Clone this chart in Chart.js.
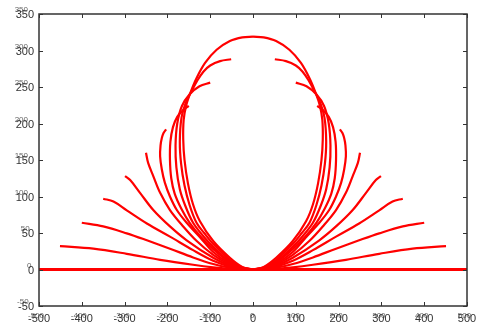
<!DOCTYPE html>
<html>
<head>
<meta charset="utf-8">
<script src="https://cdn.jsdelivr.net/npm/chart.js@4.4.0/dist/chart.umd.min.js"></script>
<style>
  html, body { margin: 0; padding: 0; background: #fff; }
  #wrap { width: 479px; height: 325px; }
</style>
</head>
<body>
<div id="wrap"><canvas id="c"></canvas></div>
<script>
// tick labels
const xTicks = [-500, -400, -300, -200, -100, 0, 100, 200, 300, 400, 500];
const yTicks = [-50, 0, 50, 100, 150, 200, 250, 300, 350];

// flat base line
const floorLine = [[-500, 0], [500, 0]];

// left-hand arms (origin -> tip); right side is the mirror image
const arm1 = [[0, 0], [-25, 0.2], [-54, 1], [-93, 3], [-140, 6.5], [-217, 13.3], [-295, 21.5], [-373, 28.5], [-451, 32]];
const arm2 = [[0, 0], [-25, 0.5], [-54, 2.5], [-93, 7.5], [-140, 16.5], [-194, 28.5], [-248, 40], [-295, 49.5], [-350, 59], [-400, 64]];
const arm3 = [[0, 0], [-25, 0.8], [-54, 4], [-93, 12], [-140, 26.5], [-194, 45], [-248, 63], [-295, 81], [-326, 93], [-350, 97]];
const arm4 = [[0, 0], [-25, 1], [-54, 5], [-93, 16], [-155, 40], [-194, 59], [-233, 81.5], [-264, 105], [-287, 122.5], [-299, 128]];
const arm5 = [[0, 0], [-25, 1.3], [-54, 6.5], [-93, 20], [-131.5, 39], [-163, 59], [-194, 81.5], [-217, 105], [-233, 128], [-245, 146], [-250, 160]];
const arm6 = [[0, 0], [-25, 1.6], [-54, 8], [-93, 24], [-125, 45], [-155, 64], [-178, 81.5], [-194, 100], [-206, 119], [-213, 137], [-217, 155], [-216, 170], [-213, 180], [-209, 187], [-203, 192]];
const arm7 = [[0, 0], [-25, 2], [-54, 9.5], [-93, 28], [-122, 45], [-148, 64], [-168, 84], [-183, 104], [-191, 125], [-194, 150], [-193, 175], [-187, 195], [-177, 209], [-164, 218], [-150, 224]];
const arm8 = [[0, 0], [-25, 2.3], [-54, 11], [-93, 31], [-118, 47], [-140, 64], [-158, 87], [-171, 110], [-179, 140], [-181, 170], [-177, 200], [-166, 224], [-148, 240], [-125, 251], [-100, 256]];
const arm9 = [[0, 0], [-25, 2.8], [-54, 13], [-93, 35], [-114, 50], [-132, 64], [-148, 88], [-160, 115], [-168, 145], [-171, 175], [-167, 208], [-156, 230], [-143, 245], [-131, 258], [-116, 271], [-100, 279.5], [-77, 285.5], [-51, 288]];
const arm10 = [[0, 0], [-25, 3.5], [-54, 16], [-93, 39], [-124, 66], [-140, 89], [-152, 118], [-160, 150], [-163, 178], [-162, 205], [-156, 225], [-147, 241], [-132, 262], [-112, 283], [-85, 301], [-54, 313], [-25, 318], [0, 319]];

const arms = [arm1, arm2, arm3, arm4, arm5, arm6, arm7, arm8, arm9, arm10];

const RED = '#ff0000';
const FONT = '"Liberation Sans", Arial, sans-serif';

function toPoints(arr, side) {
  return arr.map(p => ({ x: side * p[0], y: p[1] }));
}

const datasets = [{
  data: toPoints(floorLine, 1),
  borderColor: RED,
  borderWidth: 3,
  tension: 0,
}];
arms.forEach(a => {
  [1, -1].forEach(side => {
    datasets.push({
      data: toPoints(a, side),
      borderColor: RED,
      borderWidth: 2.2,
      tension: 0.35,
    });
  });
});

// box, inward ticks and the doubled tick labels
const framePlugin = {
  id: 'frame',
  afterDraw(chart) {
    const { ctx, chartArea: a, scales } = chart;
    const sx = scales.x, sy = scales.y;
    ctx.save();
    ctx.strokeStyle = '#333';
    ctx.lineWidth = 1.5;
    ctx.strokeRect(a.left, a.top, a.right - a.left, a.bottom - a.top);
    ctx.lineWidth = 1;
    ctx.beginPath();
    xTicks.forEach(v => {
      const px = Math.round(sx.getPixelForValue(v)) + 0.5;
      ctx.moveTo(px, a.bottom); ctx.lineTo(px, a.bottom - 4);
      ctx.moveTo(px, a.top); ctx.lineTo(px, a.top + 4);
    });
    yTicks.forEach(v => {
      const py = Math.round(sy.getPixelForValue(v)) + 0.5;
      ctx.moveTo(a.left, py); ctx.lineTo(a.left + 4, py);
      ctx.moveTo(a.right, py); ctx.lineTo(a.right - 4, py);
    });
    ctx.stroke();

    // small ghost copies (drawn first, slightly above)
    ctx.fillStyle = '#666';
    ctx.font = '8px ' + FONT;
    ctx.textBaseline = 'middle';
    ctx.textAlign = 'left';
    yTicks.forEach(v => {
      const py = sy.getPixelForValue(v);
      ctx.font = '11px ' + FONT;
      const wBig = ctx.measureText(String(v)).width;
      ctx.font = '8px ' + FONT;
      ctx.fillText(String(v), a.left - 5 - wBig - 1, py - 4);
    });
    xTicks.forEach(v => {
      const px = sx.getPixelForValue(v);
      ctx.font = '11px ' + FONT;
      const wBig = ctx.measureText(String(v)).width;
      ctx.font = '8px ' + FONT;
      ctx.fillText(String(v), px - wBig / 2, 316);
    });

    // main labels
    ctx.fillStyle = '#333';
    ctx.font = '11px ' + FONT;
    ctx.textAlign = 'right';
    yTicks.forEach(v => {
      ctx.fillText(String(v), a.left - 5, sy.getPixelForValue(v) + 1);
    });
    ctx.textAlign = 'center';
    xTicks.forEach(v => {
      ctx.fillText(String(v), sx.getPixelForValue(v), 319);
    });
    ctx.restore();
  }
};

new Chart(document.getElementById('c'), {
  type: 'scatter',
  data: { datasets },
  options: {
    responsive: true,
    maintainAspectRatio: false,
    animation: false,
    showLine: true,
    elements: { point: { radius: 0 } },
    layout: { padding: { top: 14, right: 12, left: 39, bottom: 19 } },
    plugins: { legend: { display: false }, tooltip: { enabled: false } },
    scales: {
      x: {
        type: 'linear', min: -500, max: 500,
        afterBuildTicks: s => { s.ticks = xTicks.map(v => ({ value: v })); },
        afterFit: s => { s.height = 0; },
        grid: { display: false },
        border: { display: false },
        ticks: { display: false },
      },
      y: {
        type: 'linear', min: -50, max: 350,
        afterBuildTicks: s => { s.ticks = yTicks.map(v => ({ value: v })); },
        afterFit: s => { s.width = 0; },
        grid: { display: false },
        border: { display: false },
        ticks: { display: false },
      },
    },
  },
  plugins: [framePlugin],
});
</script>
</body>
</html>
